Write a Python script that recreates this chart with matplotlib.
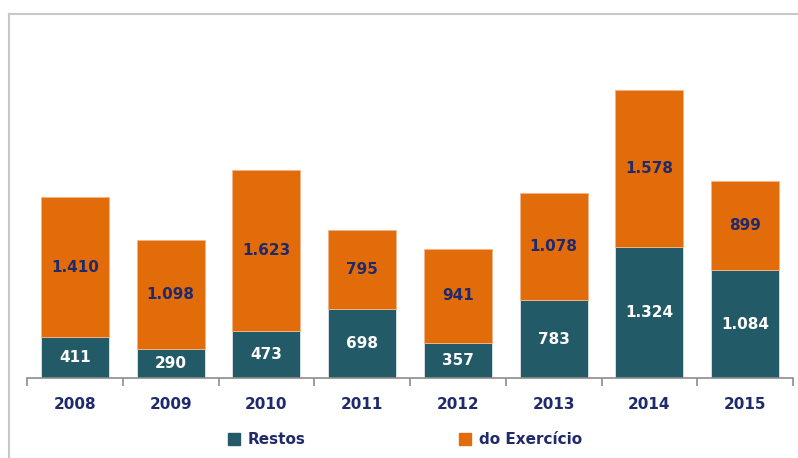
import numpy as np
import matplotlib.pyplot as plt
from matplotlib.lines import Line2D
from matplotlib.patches import Patch

years = ['2008', '2009', '2010', '2011', '2012', '2013', '2014', '2015']
restos = [411, 290, 473, 698, 357, 783, 1324, 1084]
exercicio = [1410, 1098, 1623, 795, 941, 1078, 1578, 899]

teal = '#235A68'
orange = '#E36C0A'
navy = '#1F2A6B'

def fmt(v):
    return f'{v:,}'.replace(',', '.')

fig = plt.figure(figsize=(7.98, 4.58), dpi=100)
ax = fig.add_axes([27/798, 80/458, 766/798, 364/458])

x = np.arange(len(years))
w = 0.71
b1 = ax.bar(x, restos, w, color=teal, edgecolor='#dfe6e8', linewidth=0.6)
b2 = ax.bar(x, exercicio, w, bottom=restos, color=orange, edgecolor='#f2b48a', linewidth=0.6)

for i in range(len(years)):
    ax.text(x[i], restos[i] / 2, fmt(restos[i]), ha='center', va='center',
            color='white', fontsize=11, fontweight='bold')
    ax.text(x[i], restos[i] + exercicio[i] / 2, fmt(exercicio[i]), ha='center', va='center',
            color=navy, fontsize=11, fontweight='bold')

ax.set_xlim(-0.5, len(years) - 0.5)
ax.set_ylim(0, 3669)
for s in ['top', 'right', 'left']:
    ax.spines[s].set_visible(False)
ax.spines['bottom'].set_color('#8c8c8c')
ax.spines['bottom'].set_linewidth(1.2)
ax.set_yticks([])
ax.set_xticks(x)
ax.set_xticklabels(years, color=navy, fontsize=11, fontweight='bold')
ax.tick_params(axis='x', which='major', length=0, pad=14)
ax.set_xticks(np.arange(len(years) + 1) - 0.5, minor=True)
ax.tick_params(axis='x', which='minor', length=6, width=1.2, color='#8c8c8c')

# moldura
fig.add_artist(Line2D([9/798, 1], [1 - 14/458] * 2, color='#c8c8c8', lw=1.5))
fig.add_artist(Line2D([9/798] * 2, [0, 1 - 14/458], color='#c8c8c8', lw=1.5))

handles = [Patch(color=teal, label='Restos'), Patch(color=orange, label='do Exercício')]
leg = fig.legend(handles=handles, loc='center', bbox_to_anchor=(405/798, 1 - 440/458), ncol=2,
                 frameon=False, handlelength=0.8, handleheight=0.8, columnspacing=10,
                 handletextpad=0.5, prop={'weight': 'bold', 'size': 11})
for t in leg.get_texts():
    t.set_color(navy)

fig.savefig('out.png', dpi=100)
